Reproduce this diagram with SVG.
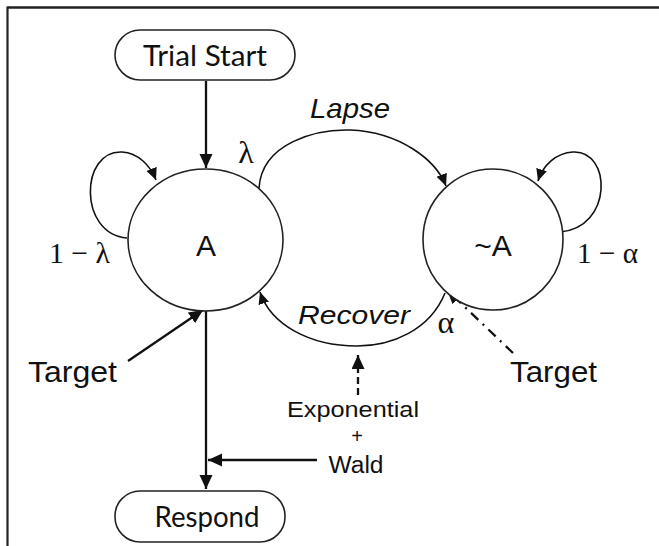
<svg xmlns="http://www.w3.org/2000/svg" width="659" height="546" viewBox="0 0 659 546">
<defs>
<marker id="ah" markerUnits="userSpaceOnUse" markerWidth="16" markerHeight="14" refX="14" refY="6.5" orient="auto">
<path d="M0,0 L14,6.5 L0,13 Z" fill="#111"/>
</marker>
<marker id="ahs" markerUnits="userSpaceOnUse" markerWidth="14" markerHeight="12" refX="12" refY="5.5" orient="auto">
<path d="M0,0 L12,5.5 L0,11 Z" fill="#111"/>
</marker>
</defs>
<style>
.sans{font-family:"Liberation Sans",Arial,sans-serif;fill:#111}
.cal{font-family:Lato,"Open Sans",sans-serif;fill:#111}
.ser{font-family:"Liberation Serif","Times New Roman",serif;fill:#111}
.node{fill:#fff;stroke:#222;stroke-width:1.6}
.edge{fill:none;stroke:#111;stroke-width:1.6}
.thick{fill:none;stroke:#111;stroke-width:2.3}
</style>
<rect x="0" y="0" width="659" height="546" fill="#fff"/>
<line x1="7.5" y1="7.5" x2="659" y2="7.5" stroke="#222" stroke-width="2.5"/>
<line x1="7.5" y1="6.5" x2="7.5" y2="546" stroke="#222" stroke-width="2.2"/>

<g id="connectors">
<line class="thick" x1="206" y1="81" x2="206" y2="168" marker-end="url(#ah)"/>
<path class="edge" d="M127,238 C78,234 80,150 122,152 C138,153 150,165 156,180" marker-end="url(#ahs)"/>
<path class="edge" d="M560,232 C613,228 612,150 573,152 C556,153 543,165 538,181" marker-end="url(#ahs)"/>
<path class="edge" d="M259,188 C262,142 318,129 350,130 C400,132 436,160 446,186" marker-end="url(#ahs)"/>
<path class="edge" d="M445,293 C430,330 392,346 357,346 C310,346 271,325 260,292" marker-end="url(#ahs)"/>
<line class="thick" x1="128" y1="361" x2="203" y2="310" marker-end="url(#ah)"/>
<line class="thick" x1="206" y1="311" x2="206" y2="489" marker-end="url(#ah)"/>
<line class="thick" x1="317" y1="460" x2="208" y2="460" marker-end="url(#ah)"/>
<line class="thick" x1="358" y1="395" x2="358" y2="355" stroke-dasharray="7,4" marker-end="url(#ah)"/>
<line class="thick" x1="513" y1="353" x2="447" y2="290" stroke-dasharray="10,6,2,6" marker-end="url(#ah)"/>
</g>

<g id="trial-start">
<rect class="node" x="115" y="30" width="180" height="50" rx="25" ry="25"/>
<text class="cal" x="205" y="66" font-size="29" text-anchor="middle" textLength="124" lengthAdjust="spacingAndGlyphs">Trial Start</text>
</g>

<g id="state-A">
<ellipse class="node" cx="205.5" cy="240" rx="77.5" ry="71"/>
<text class="sans" x="206" y="256" font-size="30" text-anchor="middle">A</text>
</g>

<g id="state-notA">
<ellipse class="node" cx="493" cy="239.5" rx="70" ry="70.5"/>
<text class="sans" x="493" y="256" font-size="30" text-anchor="middle">~A</text>
</g>

<g id="respond">
<rect class="node" x="115" y="491" width="170" height="51" rx="25" ry="25"/>
<text class="cal" x="207" y="527" font-size="29" text-anchor="middle" textLength="105" lengthAdjust="spacingAndGlyphs">Respond</text>
</g>

<g id="labels">
<text class="sans" x="350" y="118" font-size="28" font-style="italic" text-anchor="middle" textLength="80" lengthAdjust="spacingAndGlyphs">Lapse</text>
<text class="sans" x="354" y="324" font-size="26" font-style="italic" text-anchor="middle" textLength="112" lengthAdjust="spacingAndGlyphs">Recover</text>
<text class="ser" x="246" y="163" font-size="32" text-anchor="middle">λ</text>
<text class="ser" x="49" y="263" font-size="30" textLength="61" lengthAdjust="spacingAndGlyphs">1 − λ</text>
<text class="ser" x="577" y="263" font-size="30" textLength="61" lengthAdjust="spacingAndGlyphs">1 − α</text>
<text class="ser" x="446" y="333" font-size="32" text-anchor="middle">α</text>
<text class="sans" x="28" y="382" font-size="29" textLength="89" lengthAdjust="spacingAndGlyphs">Target</text>
<text class="sans" x="510" y="382" font-size="29" textLength="87" lengthAdjust="spacingAndGlyphs">Target</text>
<text class="sans" x="353" y="417" font-size="22" text-anchor="middle" textLength="132" lengthAdjust="spacingAndGlyphs">Exponential</text>
<text class="sans" x="357" y="443" font-size="20" text-anchor="middle">+</text>
<text class="sans" x="356" y="473" font-size="23" text-anchor="middle" textLength="55" lengthAdjust="spacingAndGlyphs">Wald</text>
</g>
</svg>
